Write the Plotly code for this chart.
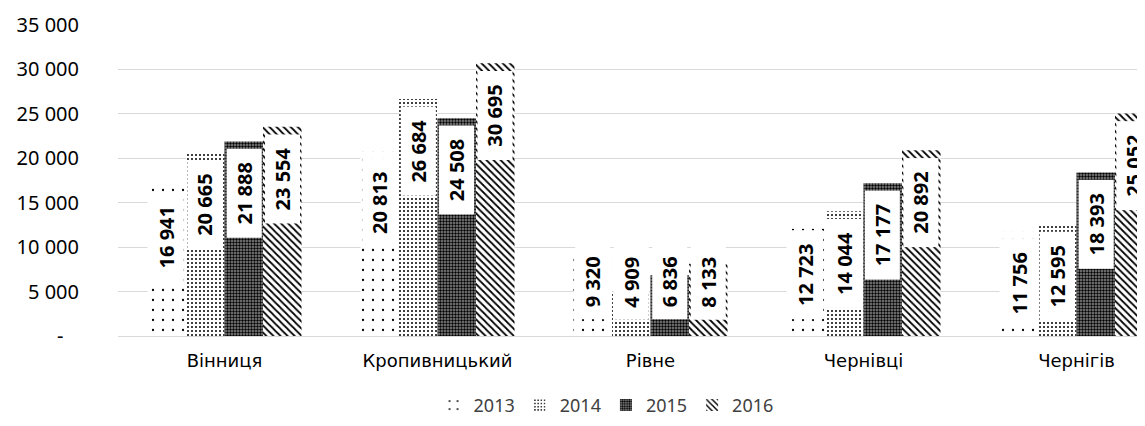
import plotly.graph_objects as go

cities = ["Вінниця", "Кропивницький", "Рівне", "Чернівці", "Чернігів"]
years = ["2013", "2014", "2015", "2016"]
v2013 = [16941, 20813, 9320, 12723, 11756]
v2014 = [20665, 26684, 4909, 14044, 12595]
v2015 = [21888, 24508, 6836, 17177, 18393]
v2016 = [23554, 30695, 8133, 20892, 25052]
tick_vals = [0, 5000, 10000, 15000, 20000, 25000, 30000, 35000]

series = [v2013, v2014, v2015, v2016]
patterns = [
    dict(shape=".", size=10, solidity=0.04, fgcolor="black", bgcolor="white", fillmode="replace"),
    dict(shape=".", size=4, solidity=0.2, fgcolor="black", bgcolor="white", fillmode="replace"),
    dict(shape=".", size=3, solidity=0.5, fgcolor="black", bgcolor="#8a8a8a", fillmode="replace"),
    dict(shape="\\", size=5, solidity=0.35, fgcolor="black", bgcolor="white", fillmode="replace"),
]

# the page body adds an 8px margin, so the figure is a bit smaller than the window
W, H = 1137, 418
ML, MR, MT, MB = 110, 0, 17, 90
CAT_PX = 213
BARGAP = 0.277
plot_w = W - ML - MR
plot_h = H - MT - MB
x_hi = -0.5 + plot_w / CAT_PX
bar_px = (1 - BARGAP) * CAT_PX / 4
px_per_unit = plot_h / 35000


def fmt(v):
    if v == 0:
        return "-\u00a0\u00a0\u00a0"
    return f"{v:,}".replace(",", " ")


fig = go.Figure()
for name, vals, pat in zip(years, series, patterns):
    fig.add_trace(go.Bar(
        x=cities, y=vals, name=name,
        marker=dict(color="white", pattern=pat, line=dict(width=0)),
        hoverinfo="skip",
    ))

annotations = []
for i, vals in enumerate(series):
    shift = (i - 1.5) * bar_px
    for c, v in zip(cities, vals):
        txt = fmt(v)
        box_len = 88 if v >= 10000 else 74
        ann = dict(
            x=c, y=v, xref="x", yref="y", text=txt, showarrow=False,
            textangle=-90, xshift=shift, bgcolor="white",
            width=box_len, height=34, borderpad=0,
            font=dict(family="Noto Sans", size=20, color="black", weight="bold"),
        )
        if v * px_per_unit < box_len + 12:
            ann.update(y=0, yanchor="bottom", yshift=16)
        else:
            ann.update(yanchor="top", yshift=-7)
        annotations.append(ann)

fig.update_layout(
    width=W, height=H,
    margin=dict(l=ML, r=MR, t=MT, b=MB),
    barmode="group", bargap=BARGAP, bargroupgap=0,
    plot_bgcolor="white", paper_bgcolor="white",
    showlegend=True,
    legend=dict(
        orientation="h", xref="container", yref="container",
        x=0.526, xanchor="center", y=0.005, yanchor="bottom",
        font=dict(family="Noto Sans", size=18, color="#404040"),
        traceorder="normal",
    ),
    annotations=annotations,
    xaxis=dict(
        range=[-0.5, x_hi], showgrid=False, showline=False,
        tickfont=dict(family="DejaVu Sans", size=18, color="black"),
        ticklabelstandoff=12,
    ),
    yaxis=dict(
        range=[0, 35000], tickvals=tick_vals,
        ticktext=[fmt(v) for v in tick_vals],
        showgrid=True, gridcolor="#d9d9d9", gridwidth=1,
        zeroline=True, zerolinecolor="#d9d9d9", zerolinewidth=1,
        tickfont=dict(family="Noto Sans", size=20, color="black"),
        ticklabelstandoff=38,
    ),
)

fig.write_html("out.html")
